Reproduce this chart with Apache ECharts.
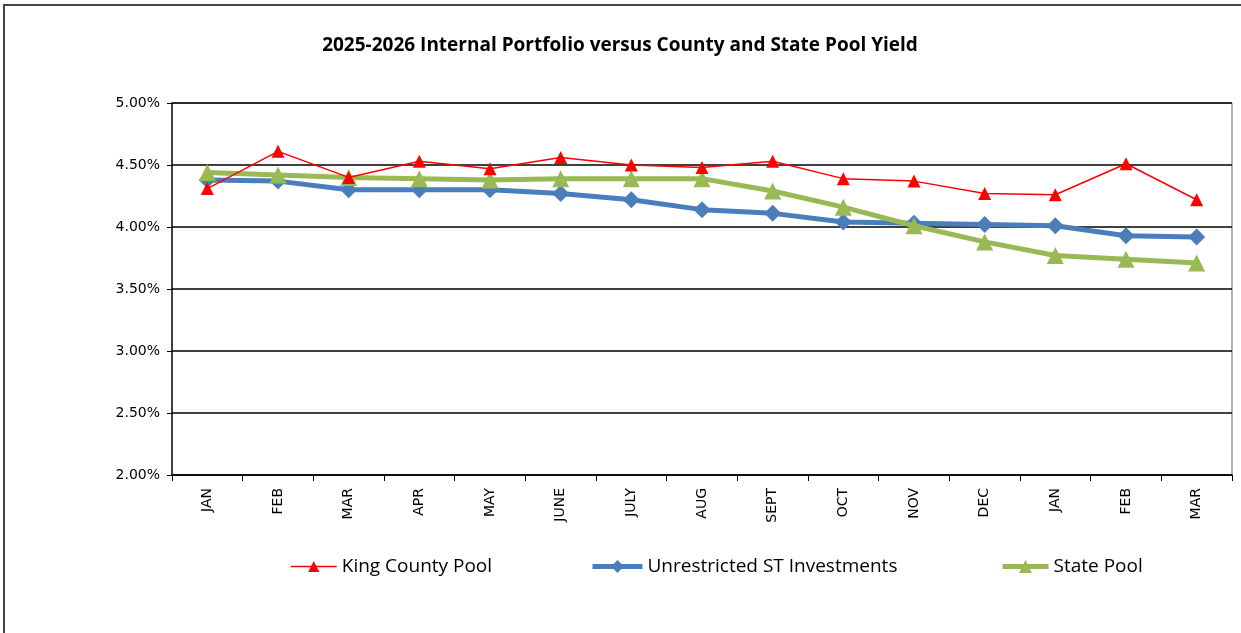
<!DOCTYPE html>
<html>
<head>
<meta charset="utf-8">
<script src="https://cdn.jsdelivr.net/npm/echarts@6/dist/echarts.min.js"></script>
<style>
  html, body { margin: 0; padding: 0; background: #fff; }
  #chart { width: 1241px; height: 633px; }
</style>
</head>
<body>
<div id="chart"></div>
<script>
const months = ['JAN', 'FEB', 'MAR', 'APR', 'MAY', 'JUNE', 'JULY', 'AUG', 'SEPT', 'OCT', 'NOV', 'DEC', 'JAN', 'FEB', 'MAR'];
const kingCounty = [4.31, 4.61, 4.40, 4.53, 4.47, 4.56, 4.50, 4.48, 4.53, 4.39, 4.37, 4.27, 4.26, 4.51, 4.22];
const unrestricted = [4.38, 4.37, 4.30, 4.30, 4.30, 4.27, 4.22, 4.14, 4.11, 4.04, 4.03, 4.02, 4.01, 3.93, 3.92];
const statePool = [4.44, 4.42, 4.40, 4.39, 4.38, 4.39, 4.39, 4.39, 4.29, 4.16, 4.01, 3.88, 3.77, 3.74, 3.71];
const yTicks = [2.0, 2.5, 3.0, 3.5, 4.0, 4.5, 5.0];

const myChart = echarts.init(document.getElementById('chart'));

const legendFont = { fontFamily: 'Open Sans, sans-serif', fontSize: 19, color: '#000' };

const option = {
  animation: false,
  title: {
    text: '2025-2026 Internal Portfolio versus County and State Pool Yield',
    left: 615,
    textAlign: 'center',
    top: 31,
    textStyle: { fontFamily: 'Open Sans, sans-serif', fontWeight: 'bold', fontSize: 19, color: '#000' }
  },
  graphic: [
    { type: 'rect', shape: { x: 4, y: 5, width: 1250, height: 700 }, style: { fill: 'none', stroke: '#444', lineWidth: 2 }, silent: true },
    { type: 'line', shape: { x1: 172, y1: 103, x2: 1232, y2: 103 }, style: { stroke: '#999', lineWidth: 1.5 }, silent: true },
    { type: 'line', shape: { x1: 1232, y1: 103, x2: 1232, y2: 475 }, style: { stroke: '#999', lineWidth: 1.5 }, silent: true }
  ],
  legend: [
    { left: 290, top: 557, padding: 0, itemWidth: 46, itemHeight: 14, itemGap: 4, textStyle: legendFont, lineStyle: { width: 1.5 }, data: ['King County Pool'] },
    { left: 590, top: 557, padding: 0, itemWidth: 50, itemHeight: 16, textStyle: legendFont, lineStyle: { width: 5 }, data: ['Unrestricted ST Investments'] },
    { left: 1000, top: 557, padding: 0, itemWidth: 46, itemHeight: 16, textStyle: legendFont, lineStyle: { width: 5 }, data: ['State Pool'] }
  ],
  grid: { left: 172, right: 9, top: 103, bottom: 158 },
  xAxis: {
    type: 'category',
    data: months,
    boundaryGap: true,
    axisLine: { lineStyle: { color: '#000', width: 1.5 } },
    axisTick: { show: true, interval: 0, length: 6, lineStyle: { color: '#000' } },
    axisLabel: { interval: 0, rotate: 90, margin: 13, color: '#000', fontFamily: 'DejaVu Sans, sans-serif', fontSize: 14 }
  },
  yAxis: {
    type: 'value',
    min: yTicks[0],
    max: yTicks[yTicks.length - 1],
    interval: 0.5,
    axisLine: { show: true, lineStyle: { color: '#000', width: 1.5 } },
    axisTick: { show: true, length: 5, lineStyle: { color: '#000' } },
    splitLine: { lineStyle: { color: '#000', width: 1.5 } },
    axisLabel: { margin: 12, color: '#000', fontFamily: 'DejaVu Sans, sans-serif', fontSize: 14, formatter: v => v.toFixed(2) + '%' }
  },
  series: [
    {
      name: 'King County Pool', type: 'line', data: kingCounty, z: 4,
      symbol: 'triangle', symbolSize: 13,
      lineStyle: { color: '#ff0000', width: 1.5 },
      itemStyle: { color: '#ff0000' }
    },
    {
      name: 'Unrestricted ST Investments', type: 'line', data: unrestricted, z: 2,
      symbol: 'diamond', symbolSize: 17,
      lineStyle: { color: '#4a7ebb', width: 5 },
      itemStyle: { color: '#4a7ebb' }
    },
    {
      name: 'State Pool', type: 'line', data: statePool, z: 3,
      symbol: 'triangle', symbolSize: 17,
      lineStyle: { color: '#98b954', width: 5 },
      itemStyle: { color: '#98b954' }
    }
  ]
};

myChart.setOption(option);
</script>
</body>
</html>
